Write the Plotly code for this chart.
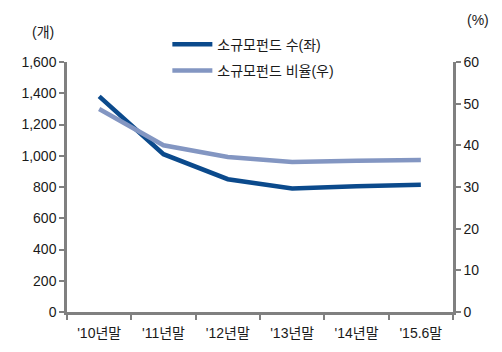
import plotly.graph_objects as go

categories = ["'10년말", "'11년말", "'12년말", "'13년말", "'14년말", "'15.6말"]
fund_count = [1380, 1010, 850, 790, 805, 815]
fund_ratio = [48.7, 40.0, 37.2, 36.0, 36.3, 36.5]
left_ticks = [0, 200, 400, 600, 800, 1000, 1200, 1400, 1600]
right_ticks = [0, 10, 20, 30, 40, 50, 60]

DARK = "#0b4a8c"
LIGHT = "#8396c2"
AXIS = "#808080"
FONT = "Liberation Sans, Noto Sans CJK KR, sans-serif"

fig = go.Figure()
fig.add_trace(go.Scatter(x=categories, y=fund_count, name="소규모펀드 수(좌)",
                         mode="lines", line=dict(color=DARK, width=4.5), yaxis="y",
                         legendgroup="a"))
fig.add_trace(go.Scatter(x=categories, y=fund_ratio, name="소규모펀드 비율(우)",
                         mode="lines", line=dict(color=LIGHT, width=4.5), yaxis="y2",
                         legendgroup="b"))

fig.update_layout(
    width=502, height=352,
    margin=dict(l=67, r=49, t=62, b=40),
    paper_bgcolor="white", plot_bgcolor="white",
    font=dict(family=FONT, size=14, color="#1a1a1a"),
    showlegend=True,
    legend=dict(x=0.26, y=1.133, xanchor="left", yanchor="top",
                bgcolor="rgba(0,0,0,0)", font=dict(size=14),
                itemwidth=40, tracegroupgap=5, traceorder="grouped"),
    xaxis=dict(type="category", showline=True, linecolor=AXIS, linewidth=2.5,
               ticks="outside", tickcolor=AXIS, ticklen=5, tickwidth=1.5,
               tickson="boundaries", showgrid=False, range=[-0.5, 5.5],
               ticklabelstandoff=6, tickfont=dict(size=14)),
    yaxis=dict(range=[0, 1600], tickvals=left_ticks,
               tickformat=",d", showline=True, linecolor=AXIS, linewidth=2.5,
               ticks="outside", tickcolor=AXIS, ticklen=5, tickwidth=1.5,
               showgrid=False, zeroline=False, tickfont=dict(size=14)),
    yaxis2=dict(range=[0, 60], tickvals=right_ticks, overlaying="y", side="right",
                showline=True, linecolor=AXIS, linewidth=2.5,
                ticks="outside", tickcolor=AXIS, ticklen=5, tickwidth=1.5,
                showgrid=False, zeroline=False, tickfont=dict(size=14)),
    annotations=[
        dict(text="(개)", x=-0.028, y=1.12, xref="paper", yref="paper",
             xanchor="right", yanchor="middle", showarrow=False, font=dict(size=14)),
        dict(text="(%)", x=1.03, y=1.17, xref="paper", yref="paper",
             xanchor="left", yanchor="middle", showarrow=False, font=dict(size=14)),
    ],
)

fig.write_html("out.html")
